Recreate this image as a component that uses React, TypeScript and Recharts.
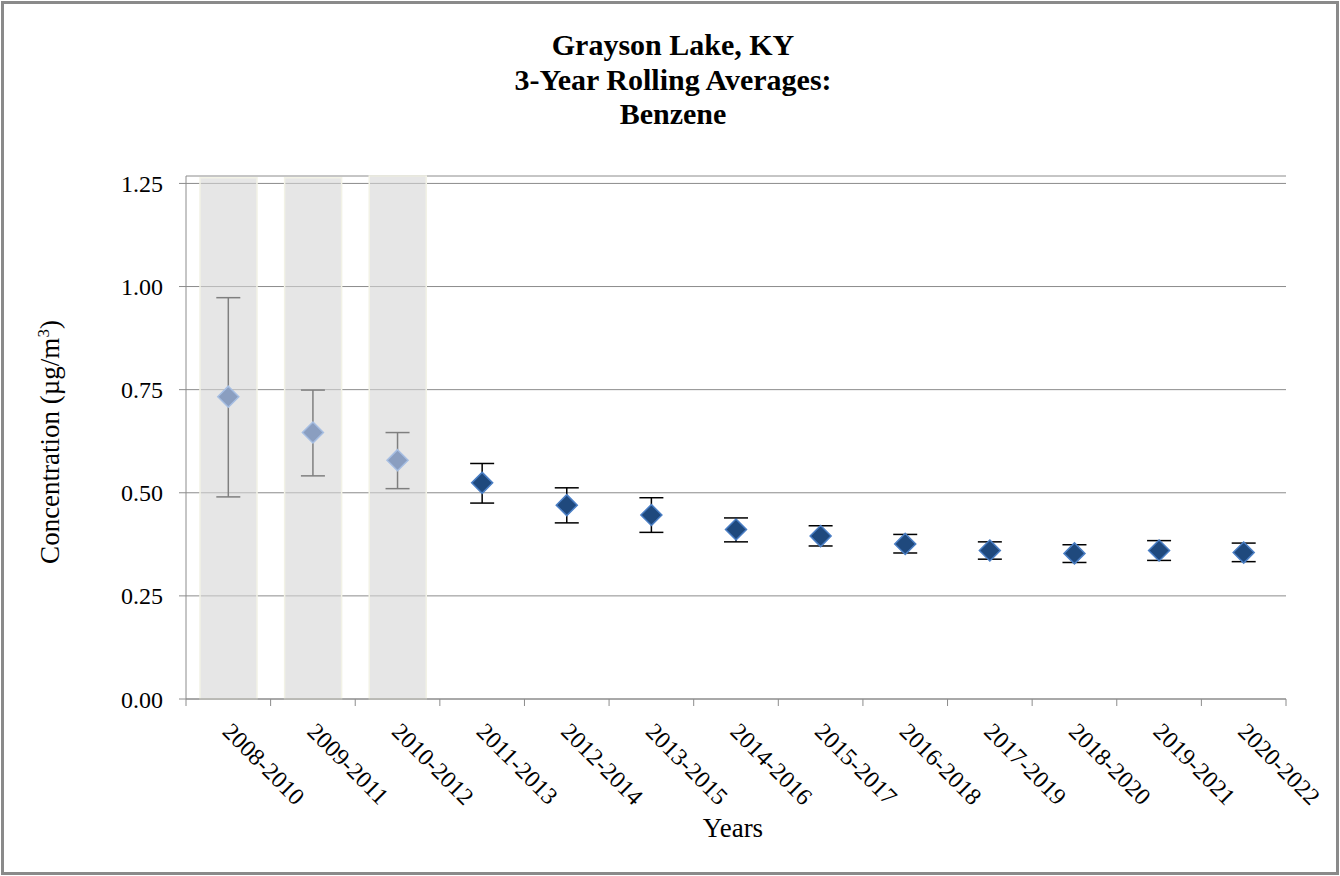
import { ComposedChart, Bar, Scatter, ErrorBar, XAxis, YAxis, CartesianGrid } from 'recharts'

// 3-year periods on the x axis
const categories = [
  '2008-2010', '2009-2011', '2010-2012', '2011-2013', '2012-2014', '2013-2015', '2014-2016',
  '2015-2017', '2016-2018', '2017-2019', '2018-2020', '2019-2021', '2020-2022',
]
// rolling averages (µg/m3) with the 95% confidence limits
const means = [0.733, 0.646, 0.579, 0.524, 0.470, 0.446, 0.411, 0.395, 0.376, 0.360, 0.353, 0.360, 0.355]
const lower = [0.490, 0.541, 0.510, 0.475, 0.427, 0.404, 0.381, 0.371, 0.354, 0.339, 0.331, 0.336, 0.333]
const upper = [0.973, 0.749, 0.646, 0.571, 0.512, 0.488, 0.439, 0.420, 0.399, 0.381, 0.374, 0.384, 0.378]
// grey shading behind the first periods
const shaded = [1.264, 1.264, 1.268]
const yTicks = [0, 0.25, 0.5, 0.75, 1.0, 1.25]

const FONT = '"Liberation Serif", "Times New Roman", serif'
const W = 1340
const H = 876
const MARGIN = { top: 176, right: 54, bottom: 7, left: 0 }
const Y_AXIS_W = 186
const BAND = (W - MARGIN.right - Y_AXIS_W) / categories.length

const rows = categories.map((c, i) => ({
  x: i + 0.5,
  label: c,
  shade: shaded[i],
  mean: means[i],
  err: [means[i] - lower[i], upper[i] - means[i]],
}))
const lightRows = rows.slice(0, shaded.length)
const darkRows = rows.slice(shaded.length)

const xTicks = Array.from({ length: categories.length + 1 }, (_, i) => i)

const XTick = (props: any) => {
  const { x, y, payload } = props
  const i = payload.value
  if (i >= categories.length) return null
  const tx = x + BAND / 2 - 7
  const ty = y + 27
  return (
    <text x={tx} y={ty} transform={`rotate(45 ${tx} ${ty})`} textAnchor="start" fontSize={24} fontFamily={FONT} fill="#000">
      {categories[i]}
    </text>
  )
}

const diamond = (fill: string, stroke: string) => (props: any) => {
  const { cx, cy } = props
  if (cx == null || cy == null) return null
  const r = 10.5
  return (
    <polygon
      points={`${cx},${cy - r} ${cx + r},${cy} ${cx},${cy + r} ${cx - r},${cy}`}
      fill={fill}
      stroke={stroke}
      strokeWidth={1.5}
    />
  )
}

export default function App() {
  return (
    <div style={{ position: 'absolute', left: 0, top: 0, width: W, height: H, background: '#fff', fontFamily: FONT }}>
      <ComposedChart width={W} height={H} data={rows} margin={MARGIN}>
        <CartesianGrid vertical={false} stroke="#8c8c8c" />
        <XAxis
          type="number"
          dataKey="x"
          domain={[0, categories.length]}
          ticks={xTicks}
          interval={0}
          tick={<XTick />}
          tickSize={7}
          tickMargin={0}
          stroke="#8c8c8c"
          height={170}
        />
        <YAxis
          type="number"
          domain={[0, 1.25]}
          ticks={yTicks}
          interval={0}
          width={Y_AXIS_W}
          tickSize={7}
          tickMargin={16}
          stroke="#8c8c8c"
          tickFormatter={(v: number) => v.toFixed(2)}
          tick={{ fill: '#000', fontSize: 24, fontFamily: FONT }}
        />
        <Bar dataKey="shade" barSize={57} fill="#d6d6d6" fillOpacity={0.6} stroke="#f2f2e6" strokeWidth={1.5} isAnimationActive={false} />
        <Scatter data={lightRows} dataKey="mean" shape={diamond('#8a9ec0', '#a6bee2')} isAnimationActive={false}>
          <ErrorBar dataKey="err" direction="y" width={12} stroke="#7f7f7f" strokeWidth={1.5} />
        </Scatter>
        <Scatter data={darkRows} dataKey="mean" shape={diamond('#1f497d', '#4a7ec4')} isAnimationActive={false}>
          <ErrorBar dataKey="err" direction="y" width={12} stroke="#000" strokeWidth={1.5} />
        </Scatter>
      </ComposedChart>

      <div
        style={{
          position: 'absolute', left: 3, top: 28, width: W, textAlign: 'center',
          fontWeight: 'bold', fontSize: 30, lineHeight: '34.5px', color: '#000',
        }}
      >
        <div>Grayson Lake, KY</div>
        <div>3-Year Rolling Averages:</div>
        <div>Benzene</div>
      </div>

      <div
        style={{
          position: 'absolute', left: 50, top: 442, fontSize: 27, whiteSpace: 'nowrap', color: '#000',
          transform: 'translate(-50%, -50%) rotate(-90deg)',
        }}
      >
        Concentration (µg/m<sup style={{ fontSize: 17, verticalAlign: 'top', lineHeight: 1 }}>3</sup>)
      </div>

      <div
        style={{
          position: 'absolute', left: 733, top: 828, fontSize: 27, whiteSpace: 'nowrap', color: '#000',
          transform: 'translate(-50%, -50%)',
        }}
      >
        Years
      </div>

      <div
        style={{
          position: 'absolute', left: 1, top: 1, width: W - 2, height: H - 2, boxSizing: 'border-box',
          border: '3px solid #8a8a8a', pointerEvents: 'none',
        }}
      />
    </div>
  )
}
